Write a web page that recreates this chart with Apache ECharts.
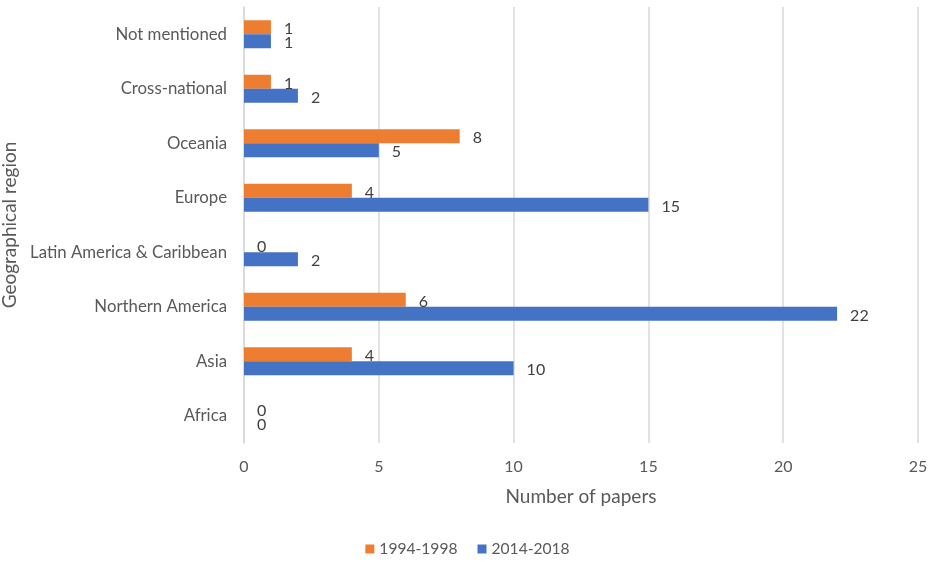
<!DOCTYPE html>
<html>
<head>
<meta charset="utf-8">
<script src="https://cdn.jsdelivr.net/npm/echarts@6/dist/echarts.min.js"></script>
<style>
  html, body { margin: 0; padding: 0; background: #fff; }
  #chart { width: 935px; height: 562px; }
</style>
</head>
<body>
<div id="chart"></div>
<script>
// Regions, bottom to top
const regions = ['Africa', 'Asia', 'Northern America', 'Latin America & Caribbean',
                 'Europe', 'Oceania', 'Cross-national', 'Not mentioned'];
const period1 = '1994-1998';
const period2 = '2014-2018';
const papers1994 = [0, 4, 6, 0, 4, 8, 1, 1];
const papers2014 = [0, 10, 22, 2, 15, 5, 2, 1];
const xTicks = { min: 0, max: 25, step: 5 };

const FONT = 'Lato, "Open Sans", sans-serif';
const TEXT = '#595959';

const labelStyle = {
  show: true,
  position: 'right',
  distance: 13,
  offset: [0, 2],
  color: '#404040',
  fontSize: 16,
  fontFamily: FONT
};

const chart = echarts.init(document.getElementById('chart'));
chart.setOption({
  animation: false,
  textStyle: { fontFamily: FONT },
  grid: { left: 244, right: 17, top: 7, bottom: 119, containLabel: false, outerBoundsMode: 'none' },
  legend: {
    bottom: 0,
    left: 'center',
    data: [period1, period2],
    icon: 'rect',
    itemWidth: 9,
    itemHeight: 9,
    itemGap: 20,
    textStyle: { color: TEXT, fontSize: 15.6, fontFamily: FONT }
  },
  xAxis: {
    type: 'value',
    min: xTicks.min,
    max: xTicks.max,
    interval: xTicks.step,
    name: 'Number of papers',
    nameLocation: 'middle',
    nameGap: 44,
    nameTextStyle: { color: TEXT, fontSize: 19, fontFamily: FONT },
    axisLine: { show: false },
    axisTick: { show: false },
    axisLabel: { color: TEXT, fontSize: 16, margin: 16, fontFamily: FONT },
    splitLine: { show: true, lineStyle: { color: '#d9d9d9', width: 1.5 } }
  },
  yAxis: {
    type: 'category',
    data: regions,
    name: 'Geographical region',
    nameLocation: 'middle',
    nameGap: 222,
    nameTextStyle: { color: TEXT, fontSize: 19, fontFamily: FONT },
    axisLine: { show: true, lineStyle: { color: '#d9d9d9', width: 1.5 } },
    axisTick: { show: false },
    axisLabel: { color: TEXT, fontSize: 16.8, margin: 17, fontFamily: FONT }
  },
  series: [
    {
      name: period1,
      type: 'bar',
      data: papers1994,
      barWidth: 14,
      barGap: '0%',
      itemStyle: { color: '#ED7D31' },
      label: labelStyle
    },
    {
      name: period2,
      type: 'bar',
      data: papers2014,
      barWidth: 14,
      barGap: '0%',
      itemStyle: { color: '#4472C4' },
      label: labelStyle
    }
  ]
});
</script>
</body>
</html>
